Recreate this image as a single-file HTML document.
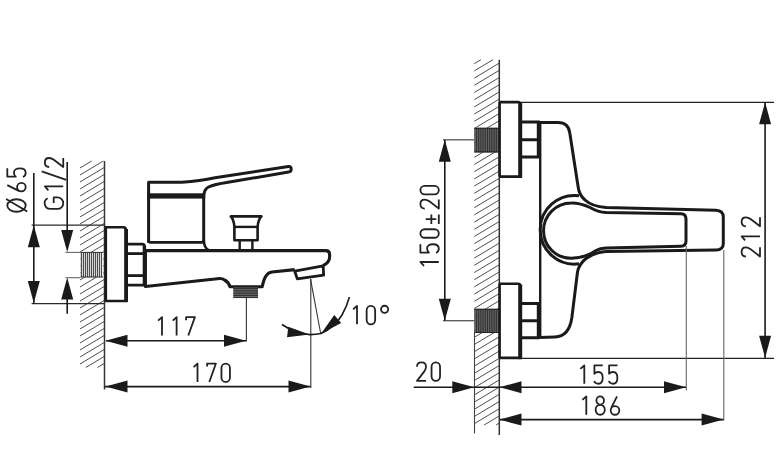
<!DOCTYPE html>
<html><head><meta charset="utf-8"><style>
html,body{margin:0;padding:0;background:#fff;width:783px;height:473px;overflow:hidden}
svg{display:block}
</style></head><body>
<svg width="783" height="473" viewBox="0 0 783 473">
<rect width="783" height="473" fill="#fff"/>
<g stroke="#444" stroke-width="0.95"><line x1="80.00" y1="168.00" x2="91.67" y2="161.00"/><line x1="80.00" y1="175.00" x2="103.33" y2="161.00"/><line x1="80.00" y1="182.00" x2="104.30" y2="167.42"/><line x1="80.00" y1="189.00" x2="104.30" y2="174.42"/><line x1="80.00" y1="196.00" x2="104.30" y2="181.42"/><line x1="80.00" y1="203.00" x2="104.30" y2="188.42"/><line x1="80.00" y1="210.00" x2="104.30" y2="195.42"/><line x1="80.00" y1="217.00" x2="104.30" y2="202.42"/><line x1="80.00" y1="224.00" x2="104.30" y2="209.42"/><line x1="80.00" y1="231.00" x2="104.30" y2="216.42"/><line x1="80.00" y1="238.00" x2="104.30" y2="223.42"/><line x1="80.00" y1="245.00" x2="104.30" y2="230.42"/><line x1="80.00" y1="252.00" x2="104.30" y2="237.42"/><line x1="80.00" y1="259.00" x2="104.30" y2="244.42"/><line x1="80.00" y1="266.00" x2="104.30" y2="251.42"/><line x1="80.00" y1="273.00" x2="104.30" y2="258.42"/><line x1="80.00" y1="280.00" x2="104.30" y2="265.42"/><line x1="80.00" y1="287.00" x2="104.30" y2="272.42"/><line x1="80.00" y1="294.00" x2="104.30" y2="279.42"/><line x1="80.00" y1="301.00" x2="104.30" y2="286.42"/><line x1="80.00" y1="308.00" x2="104.30" y2="293.42"/><line x1="80.00" y1="315.00" x2="104.30" y2="300.42"/><line x1="80.00" y1="322.00" x2="104.30" y2="307.42"/><line x1="80.00" y1="329.00" x2="104.30" y2="314.42"/><line x1="80.00" y1="336.00" x2="104.30" y2="321.42"/><line x1="80.00" y1="343.00" x2="104.30" y2="328.42"/><line x1="80.00" y1="350.00" x2="104.30" y2="335.42"/><line x1="80.00" y1="357.00" x2="104.30" y2="342.42"/><line x1="80.00" y1="364.00" x2="104.30" y2="349.42"/><line x1="85.83" y1="367.50" x2="104.30" y2="356.42"/><line x1="97.50" y1="367.50" x2="104.30" y2="363.42"/></g>
<rect x="80.40" y="252.00" width="22.80" height="25.20" fill="#e8e8e8"/><g stroke="#3c3c3c" stroke-width="1.00"><line x1="81.40" y1="252.00" x2="81.40" y2="277.20"/><line x1="83.40" y1="252.00" x2="83.40" y2="277.20"/><line x1="85.40" y1="252.00" x2="85.40" y2="277.20"/><line x1="87.40" y1="252.00" x2="87.40" y2="277.20"/><line x1="89.40" y1="252.00" x2="89.40" y2="277.20"/><line x1="91.40" y1="252.00" x2="91.40" y2="277.20"/><line x1="93.40" y1="252.00" x2="93.40" y2="277.20"/><line x1="95.40" y1="252.00" x2="95.40" y2="277.20"/><line x1="97.40" y1="252.00" x2="97.40" y2="277.20"/><line x1="99.40" y1="252.00" x2="99.40" y2="277.20"/><line x1="101.40" y1="252.00" x2="101.40" y2="277.20"/></g>
<path d="M80.4,252.4 H103 M80.4,277 H103" stroke="#333" stroke-width="1"/>
<line x1="104.5" y1="161" x2="104.5" y2="389.5" stroke="#333" stroke-width="1.5"/>
<path d="M105.5,227.3 H123.5 Q126,227.3 126,230 V301 H105.5" fill="none" stroke="#1a1a1a" stroke-width="2.4"/>
<line x1="126.1" y1="229" x2="126.1" y2="302" stroke="#1a1a1a" stroke-width="3.8"/>
<line x1="105.8" y1="226" x2="105.8" y2="302" stroke="#1a1a1a" stroke-width="2.6"/>
<path d="M127.5,244.2 H142 Q144.6,244.2 144.6,247 V285.2 H127.5" fill="none" stroke="#1a1a1a" stroke-width="2.8"/>
<line x1="144.4" y1="246" x2="144.4" y2="285.5" stroke="#1a1a1a" stroke-width="3.4"/>
<line x1="127.5" y1="253.6" x2="144" y2="253.6" stroke="#1a1a1a" stroke-width="2.8"/>
<line x1="127.5" y1="275.6" x2="144" y2="275.6" stroke="#1a1a1a" stroke-width="2.8"/>
<path d="M148.6,242.7 V182.2 H182 Q200,181 215,177.8 L288.5,166.6 Q291.2,166.4 291.2,169.3 Q291.2,171.8 288.5,172.1 L228,182.3 Q214,184.5 208.5,187 Q203.7,189.5 203.7,197 V243" fill="none" stroke="#1a1a1a" stroke-width="3" stroke-linejoin="round"/>
<rect x="147.2" y="193.3" width="58" height="5.3" fill="#1a1a1a"/>
<path d="M148.6,240 Q148.6,242.4 150.5,242.4 H201.5 Q203.7,242.4 203.7,240" fill="none" stroke="#1a1a1a" stroke-width="2.6"/>
<path d="M203.7,240 Q204,248 209,250.5" fill="none" stroke="#1a1a1a" stroke-width="2.6"/>
<path d="M145.4,250.6 H325.5 Q329.6,250.6 329.6,254.5 V257 Q329.6,262.5 323,265.6 M145.4,250.5 V286.5 L215,279 Q222,277.5 224.5,280 Q228.5,282 230,286.8 H262.2 Q263.8,279 266,276 Q268,272.5 272,272 L294.7,269.6" fill="none" stroke="#1a1a1a" stroke-width="3.1" stroke-linejoin="round"/>
<polygon points="294.7,271.2 323.2,265.9 323.6,275.2 297.3,278.8" fill="#fff" stroke="#1a1a1a" stroke-width="2.8" stroke-linejoin="round"/>
<path d="M230.8,216.4 H261.4 Q258,220 257.6,227 V240.2 H234.4 V227 Q234,220 230.8,216.4 Z" fill="none" stroke="#1a1a1a" stroke-width="2.6" stroke-linejoin="round"/>
<line x1="234" y1="226.9" x2="258" y2="226.9" stroke="#1a1a1a" stroke-width="2.4"/>
<line x1="239.7" y1="240" x2="239.7" y2="250" stroke="#1a1a1a" stroke-width="2.4"/>
<line x1="252.4" y1="240" x2="252.4" y2="250" stroke="#1a1a1a" stroke-width="2.4"/>
<rect x="233.30" y="287.50" width="24.70" height="10.60" fill="#777"/><g stroke="#2a2a2a" stroke-width="1.00"><line x1="233.30" y1="288.40" x2="258.00" y2="288.40"/><line x1="233.30" y1="290.20" x2="258.00" y2="290.20"/><line x1="233.30" y1="292.00" x2="258.00" y2="292.00"/><line x1="233.30" y1="293.80" x2="258.00" y2="293.80"/><line x1="233.30" y1="295.60" x2="258.00" y2="295.60"/><line x1="233.30" y1="297.40" x2="258.00" y2="297.40"/></g>
<g stroke="#2a2a2a" stroke-width="1.25"><line x1="31.6" y1="225" x2="104.5" y2="225"/><line x1="31.6" y1="303.5" x2="104.5" y2="303.5"/></g>
<g stroke="#666" stroke-width="1.1"><line x1="65.4" y1="252.4" x2="80.2" y2="252.4"/><line x1="65.4" y1="277.7" x2="80.2" y2="277.7"/></g>
<g stroke="#333" stroke-width="1.1"><line x1="246.4" y1="298" x2="246.4" y2="341.5"/><line x1="310.8" y1="279" x2="310.8" y2="388"/><line x1="310.5" y1="279" x2="320.8" y2="334"/></g>
<g stroke="#1a1a1a" stroke-width="1.6"><line x1="33.8" y1="173" x2="33.8" y2="303.3"/><line x1="67.2" y1="162" x2="67.2" y2="240"/><line x1="67.2" y1="290" x2="67.2" y2="313.8"/><line x1="106" y1="340.8" x2="246" y2="340.8"/><line x1="105" y1="386.6" x2="310.5" y2="386.6"/></g>
<polygon points="33.80,225.20 39.80,247.20 27.80,247.20" fill="#1a1a1a"/>
<polygon points="33.80,303.00 27.80,281.00 39.80,281.00" fill="#1a1a1a"/>
<polygon points="67.20,252.00 61.20,230.00 73.20,230.00" fill="#1a1a1a"/>
<polygon points="67.20,277.60 73.20,299.60 61.20,299.60" fill="#1a1a1a"/>
<polygon points="105.50,340.80 127.50,334.80 127.50,346.80" fill="#1a1a1a"/>
<polygon points="246.00,340.80 224.00,346.80 224.00,334.80" fill="#1a1a1a"/>
<polygon points="105.50,386.60 127.50,380.60 127.50,392.60" fill="#1a1a1a"/>
<polygon points="310.50,386.60 288.50,392.60 288.50,380.60" fill="#1a1a1a"/>
<path d="M282,324.5 Q295,333.5 310,334.6 Q316,334.5 321,333.5 Q335,327 342,315 Q347,306 349.4,297" fill="none" stroke="#1a1a1a" stroke-width="1.6"/>
<polygon points="309.50,334.60 287.03,337.19 288.28,326.77" fill="#1a1a1a"/>
<polygon points="321.20,333.50 334.25,315.02 341.18,322.91" fill="#1a1a1a"/>
<g stroke="#444" stroke-width="0.95"><line x1="474.30" y1="63.70" x2="480.97" y2="59.70"/><line x1="474.30" y1="70.90" x2="492.97" y2="59.70"/><line x1="474.30" y1="78.10" x2="499.30" y2="63.10"/><line x1="474.30" y1="85.30" x2="499.30" y2="70.30"/><line x1="474.30" y1="92.50" x2="499.30" y2="77.50"/><line x1="474.30" y1="99.70" x2="499.30" y2="84.70"/><line x1="474.30" y1="106.90" x2="499.30" y2="91.90"/><line x1="474.30" y1="114.10" x2="499.30" y2="99.10"/><line x1="474.30" y1="121.30" x2="499.30" y2="106.30"/><line x1="474.30" y1="128.50" x2="499.30" y2="113.50"/><line x1="474.30" y1="135.70" x2="499.30" y2="120.70"/><line x1="474.30" y1="142.90" x2="499.30" y2="127.90"/><line x1="474.30" y1="150.10" x2="499.30" y2="135.10"/><line x1="474.30" y1="157.30" x2="499.30" y2="142.30"/><line x1="474.30" y1="164.50" x2="499.30" y2="149.50"/><line x1="474.30" y1="171.70" x2="499.30" y2="156.70"/><line x1="474.30" y1="178.90" x2="499.30" y2="163.90"/><line x1="474.30" y1="186.10" x2="499.30" y2="171.10"/><line x1="474.30" y1="193.30" x2="499.30" y2="178.30"/><line x1="474.30" y1="200.50" x2="499.30" y2="185.50"/><line x1="474.30" y1="207.70" x2="499.30" y2="192.70"/><line x1="474.30" y1="214.90" x2="499.30" y2="199.90"/><line x1="474.30" y1="222.10" x2="499.30" y2="207.10"/><line x1="474.30" y1="229.30" x2="499.30" y2="214.30"/><line x1="474.30" y1="236.50" x2="499.30" y2="221.50"/><line x1="474.30" y1="243.70" x2="499.30" y2="228.70"/><line x1="474.30" y1="250.90" x2="499.30" y2="235.90"/><line x1="474.30" y1="258.10" x2="499.30" y2="243.10"/><line x1="474.30" y1="265.30" x2="499.30" y2="250.30"/><line x1="474.30" y1="272.50" x2="499.30" y2="257.50"/><line x1="474.30" y1="279.70" x2="499.30" y2="264.70"/><line x1="474.30" y1="286.90" x2="499.30" y2="271.90"/><line x1="474.30" y1="294.10" x2="499.30" y2="279.10"/><line x1="474.30" y1="301.30" x2="499.30" y2="286.30"/><line x1="474.30" y1="308.50" x2="499.30" y2="293.50"/><line x1="474.30" y1="315.70" x2="499.30" y2="300.70"/><line x1="474.30" y1="322.90" x2="499.30" y2="307.90"/><line x1="474.30" y1="330.10" x2="499.30" y2="315.10"/><line x1="474.30" y1="337.30" x2="499.30" y2="322.30"/><line x1="474.30" y1="344.50" x2="499.30" y2="329.50"/><line x1="474.30" y1="351.70" x2="499.30" y2="336.70"/><line x1="474.30" y1="358.90" x2="499.30" y2="343.90"/><line x1="474.30" y1="366.10" x2="499.30" y2="351.10"/><line x1="474.30" y1="373.30" x2="499.30" y2="358.30"/><line x1="474.30" y1="380.50" x2="499.30" y2="365.50"/><line x1="474.30" y1="387.70" x2="499.30" y2="372.70"/><line x1="474.30" y1="394.90" x2="499.30" y2="379.90"/><line x1="474.30" y1="402.10" x2="499.30" y2="387.10"/><line x1="474.30" y1="409.30" x2="499.30" y2="394.30"/><line x1="474.30" y1="416.50" x2="499.30" y2="401.50"/><line x1="474.30" y1="423.70" x2="499.30" y2="408.70"/><line x1="484.13" y1="425.00" x2="499.30" y2="415.90"/><line x1="496.13" y1="425.00" x2="499.30" y2="423.10"/></g>
<line x1="499.3" y1="59.7" x2="499.3" y2="435" stroke="#333" stroke-width="1.5"/>
<line x1="474.5" y1="333" x2="474.5" y2="433.5" stroke="#444" stroke-width="1.1"/>
<rect x="474.30" y="127.80" width="24.60" height="24.60" fill="#333"/><g stroke="#808080" stroke-width="0.70"><line x1="475.40" y1="127.80" x2="475.40" y2="152.40"/><line x1="477.60" y1="127.80" x2="477.60" y2="152.40"/><line x1="479.80" y1="127.80" x2="479.80" y2="152.40"/><line x1="482.00" y1="127.80" x2="482.00" y2="152.40"/><line x1="484.20" y1="127.80" x2="484.20" y2="152.40"/><line x1="486.40" y1="127.80" x2="486.40" y2="152.40"/><line x1="488.60" y1="127.80" x2="488.60" y2="152.40"/><line x1="490.80" y1="127.80" x2="490.80" y2="152.40"/><line x1="493.00" y1="127.80" x2="493.00" y2="152.40"/><line x1="495.20" y1="127.80" x2="495.20" y2="152.40"/><line x1="497.40" y1="127.80" x2="497.40" y2="152.40"/></g>
<path d="M474.3,128.3 H498.9 M474.3,151.9 H498.9" stroke="#222" stroke-width="1"/>
<rect x="474.30" y="308.80" width="24.60" height="24.20" fill="#333"/><g stroke="#808080" stroke-width="0.70"><line x1="475.40" y1="308.80" x2="475.40" y2="333.00"/><line x1="477.60" y1="308.80" x2="477.60" y2="333.00"/><line x1="479.80" y1="308.80" x2="479.80" y2="333.00"/><line x1="482.00" y1="308.80" x2="482.00" y2="333.00"/><line x1="484.20" y1="308.80" x2="484.20" y2="333.00"/><line x1="486.40" y1="308.80" x2="486.40" y2="333.00"/><line x1="488.60" y1="308.80" x2="488.60" y2="333.00"/><line x1="490.80" y1="308.80" x2="490.80" y2="333.00"/><line x1="493.00" y1="308.80" x2="493.00" y2="333.00"/><line x1="495.20" y1="308.80" x2="495.20" y2="333.00"/><line x1="497.40" y1="308.80" x2="497.40" y2="333.00"/></g>
<path d="M474.3,309.3 H498.9 M474.3,332.5 H498.9" stroke="#222" stroke-width="1"/>
<path d="M499.3,102.1 H518 Q520.5,102.1 520.5,104.6 V176.6 H499.3" fill="none" stroke="#1a1a1a" stroke-width="2.6"/>
<line x1="520.2" y1="103.1" x2="520.2" y2="177.8" stroke="#1a1a1a" stroke-width="4"/>
<line x1="499.6" y1="102.1" x2="499.6" y2="176.6" stroke="#1a1a1a" stroke-width="2.6"/>
<path d="M499.3,283.7 H518 Q520.5,283.7 520.5,286.2 V357.9 H499.3" fill="none" stroke="#1a1a1a" stroke-width="2.6"/>
<line x1="520.2" y1="284.7" x2="520.2" y2="359.1" stroke="#1a1a1a" stroke-width="4"/>
<line x1="499.6" y1="283.7" x2="499.6" y2="357.9" stroke="#1a1a1a" stroke-width="2.6"/>
<path d="M521,122.0 H538.3 V157.0 H521 M521,139.8 H538.3" fill="none" stroke="#1a1a1a" stroke-width="3"/>
<path d="M521,303.4 H538.3 V337.7 H521 M521,320.7 H538.3" fill="none" stroke="#1a1a1a" stroke-width="3"/>
<path d="M540.2,122 V338.5" fill="none" stroke="#1a1a1a" stroke-width="2.4"/>
<path d="M538.3,122.4 H558 Q568.5,122.5 569.8,133 L578,186 Q579,195 585,200 Q592,206.5 606,207.5 L716,210.3 Q723.3,210.8 723.3,217 V243.5 Q723.3,249.8 716,250 L606,251.5 Q594,252.5 586,258.5 Q579,264 577.5,272 L571.8,318 Q569,336.5 555,337 L540.2,337.5" fill="none" stroke="#1a1a1a" stroke-width="3" stroke-linejoin="round"/>
<path d="M579,195.8 A34.3,34.3 0 1 0 579,263.8" fill="none" stroke="#1a1a1a" stroke-width="3"/>
<path d="M571.2,203 A27.6,27.6 0 1 0 571.2,258.3 Q585,258 596,250.5 Q600,248.2 606,248 L681,246.2 Q686,246 686,241 V219 Q686,214 681,213.8 L606,212.6 Q598,212 590,207.5 Q580,202.8 571.2,203" fill="none" stroke="#1a1a1a" stroke-width="3"/>
<g stroke="#555" stroke-width="1.3"><line x1="443" y1="139.8" x2="474.4" y2="139.8"/><line x1="443" y1="320.7" x2="474.4" y2="320.7"/></g>
<g stroke="#222" stroke-width="1.2"><line x1="521" y1="102.4" x2="774" y2="102.4"/><line x1="521" y1="358.3" x2="774" y2="358.3"/></g>
<g stroke="#666" stroke-width="1.1"><line x1="686.3" y1="246" x2="686.3" y2="390.6"/><line x1="723.8" y1="250" x2="723.8" y2="420.5"/></g>
<g stroke="#1a1a1a" stroke-width="1.6"><line x1="444.8" y1="140" x2="444.8" y2="320.5"/><line x1="765.1" y1="102.5" x2="765.1" y2="358"/><line x1="413.7" y1="387.2" x2="686" y2="387.2"/><line x1="500" y1="419.6" x2="723.5" y2="419.6"/></g>
<polygon points="444.80,139.80 450.80,161.80 438.80,161.80" fill="#1a1a1a"/>
<polygon points="444.80,320.70 438.80,298.70 450.80,298.70" fill="#1a1a1a"/>
<polygon points="765.10,102.30 771.10,124.30 759.10,124.30" fill="#1a1a1a"/>
<polygon points="765.10,357.80 759.10,335.80 771.10,335.80" fill="#1a1a1a"/>
<polygon points="474.30,387.20 452.30,393.20 452.30,381.20" fill="#1a1a1a"/>
<polygon points="499.50,387.20 521.50,381.20 521.50,393.20" fill="#1a1a1a"/>
<polygon points="686.00,387.20 664.00,393.20 664.00,381.20" fill="#1a1a1a"/>
<polygon points="499.50,419.60 521.50,413.60 521.50,425.60" fill="#1a1a1a"/>
<polygon points="723.60,419.60 701.60,425.60 701.60,413.60" fill="#1a1a1a"/>
<g fill="none" stroke="#222" stroke-width="1.80" stroke-linejoin="round"><path transform="translate(161.50,316.15)" d="M-3.4,4.5 L0.5,0.95 V19.35"/><path transform="translate(176.10,316.15)" d="M-3.4,4.5 L0.5,0.95 V19.35"/><path transform="translate(190.50,316.15)" d="M-4.4,4.0 V0.95 H4.4 L-2.2,19.35"/></g>
<g fill="none" stroke="#222" stroke-width="1.80" stroke-linejoin="round"><path transform="translate(197.00,362.60)" d="M-3.4,4.5 L0.5,0.95 V19.35"/><path transform="translate(211.50,362.60)" d="M-4.4,4.0 V0.95 H4.4 L-2.2,19.35"/><path transform="translate(225.70,362.60)" d="M-4.25,5.2 A4.25,4.25 0 0 1 4.25,5.2 V15.1 A4.25,4.25 0 0 1 -4.25,15.1 Z"/></g>
<g fill="none" stroke="#222" stroke-width="1.80" stroke-linejoin="round"><path transform="translate(356.50,304.95)" d="M-3.4,4.5 L0.5,0.95 V19.35"/><path transform="translate(370.90,304.95)" d="M-4.25,5.2 A4.25,4.25 0 0 1 4.25,5.2 V15.1 A4.25,4.25 0 0 1 -4.25,15.1 Z"/></g>
<circle cx="384.6" cy="309.35" r="3.6" fill="none" stroke="#222" stroke-width="1.8"/>
<g fill="none" stroke="#222" stroke-width="1.80" stroke-linejoin="round"><path transform="translate(421.50,361.50)" d="M-4.5,5.3 C-4.5,2.6 -2.5,0.95 0,0.95 C2.6,0.95 4.5,2.7 4.5,5.3 C4.5,7.1 3.9,8.3 2.8,9.9 L-4.5,19.35 H4.6"/><path transform="translate(435.80,361.50)" d="M-4.25,5.2 A4.25,4.25 0 0 1 4.25,5.2 V15.1 A4.25,4.25 0 0 1 -4.25,15.1 Z"/></g>
<g fill="none" stroke="#222" stroke-width="1.80" stroke-linejoin="round"><path transform="translate(583.80,364.40)" d="M-3.4,4.5 L0.5,0.95 V19.35"/><path transform="translate(598.40,364.40)" d="M4.4,0.95 H-4.0 V9.4 C-3,8.1 -1.5,7.6 0.2,7.6 C2.9,7.6 4.3,10 4.3,13.4 C4.3,17.2 2.6,19.35 0,19.35 C-2.1,19.35 -3.6,18.3 -4.3,16.6"/><path transform="translate(613.10,364.40)" d="M4.4,0.95 H-4.0 V9.4 C-3,8.1 -1.5,7.6 0.2,7.6 C2.9,7.6 4.3,10 4.3,13.4 C4.3,17.2 2.6,19.35 0,19.35 C-2.1,19.35 -3.6,18.3 -4.3,16.6"/></g>
<g fill="none" stroke="#222" stroke-width="1.80" stroke-linejoin="round"><path transform="translate(585.80,395.40)" d="M-3.4,4.5 L0.5,0.95 V19.35"/><path transform="translate(600.20,395.40)" d="M-3.8,5.05 A3.8,4.1 0 1 1 3.8,5.05 A3.8,4.1 0 1 1 -3.8,5.05 Z M-4.6,14.35 A4.6,5.0 0 1 1 4.6,14.35 A4.6,5.0 0 1 1 -4.6,14.35 Z"/><path transform="translate(615.00,395.40)" d="M2.0,0.95 L-3.75,12.4 M-4.3,15.05 A4.3,4.3 0 1 1 4.3,15.05 A4.3,4.3 0 1 1 -4.3,15.05 Z"/></g>
<g fill="none" stroke="#222" stroke-width="1.80" stroke-linejoin="round"><path transform="translate(740.65,251.95) rotate(-90)" d="M-4.5,5.3 C-4.5,2.6 -2.5,0.95 0,0.95 C2.6,0.95 4.5,2.7 4.5,5.3 C4.5,7.1 3.9,8.3 2.8,9.9 L-4.5,19.35 H4.6"/><path transform="translate(740.65,236.90) rotate(-90)" d="M-3.4,4.5 L0.5,0.95 V19.35"/><path transform="translate(740.65,221.80) rotate(-90)" d="M-4.5,5.3 C-4.5,2.6 -2.5,0.95 0,0.95 C2.6,0.95 4.5,2.7 4.5,5.3 C4.5,7.1 3.9,8.3 2.8,9.9 L-4.5,19.35 H4.6"/></g>
<g fill="none" stroke="#222" stroke-width="1.80" stroke-linejoin="round"><path transform="translate(419.45,262.50) rotate(-90)" d="M-3.4,4.5 L0.5,0.95 V19.35"/><path transform="translate(419.45,248.55) rotate(-90)" d="M4.4,0.95 H-4.0 V9.4 C-3,8.1 -1.5,7.6 0.2,7.6 C2.9,7.6 4.3,10 4.3,13.4 C4.3,17.2 2.6,19.35 0,19.35 C-2.1,19.35 -3.6,18.3 -4.3,16.6"/><path transform="translate(419.45,233.50) rotate(-90)" d="M-4.25,5.2 A4.25,4.25 0 0 1 4.25,5.2 V15.1 A4.25,4.25 0 0 1 -4.25,15.1 Z"/><path transform="translate(419.45,219.20) rotate(-90)" d="M0,6.3 V16.8 M-4.8,11.9 H4.8 M-4.8,19.35 H4.8"/><path transform="translate(419.45,204.10) rotate(-90)" d="M-4.5,5.3 C-4.5,2.6 -2.5,0.95 0,0.95 C2.6,0.95 4.5,2.7 4.5,5.3 C4.5,7.1 3.9,8.3 2.8,9.9 L-4.5,19.35 H4.6"/><path transform="translate(419.45,190.10) rotate(-90)" d="M-4.25,5.2 A4.25,4.25 0 0 1 4.25,5.2 V15.1 A4.25,4.25 0 0 1 -4.25,15.1 Z"/></g>
<g fill="none" stroke="#222" stroke-width="1.80" stroke-linejoin="round"><path transform="translate(6.35,205.50) rotate(-90)" d="M-6.25,10.15 A6.25,9.2 0 1 1 6.25,10.15 A6.25,9.2 0 1 1 -6.25,10.15 Z M6.4,-0.2 L-6.1,20.9"/><path transform="translate(6.35,187.10) rotate(-90)" d="M2.0,0.95 L-3.75,12.4 M-4.3,15.05 A4.3,4.3 0 1 1 4.3,15.05 A4.3,4.3 0 1 1 -4.3,15.05 Z"/><path transform="translate(6.35,172.70) rotate(-90)" d="M4.4,0.95 H-4.0 V9.4 C-3,8.1 -1.5,7.6 0.2,7.6 C2.9,7.6 4.3,10 4.3,13.4 C4.3,17.2 2.6,19.35 0,19.35 C-2.1,19.35 -3.6,18.3 -4.3,16.6"/></g>
<g fill="none" stroke="#222" stroke-width="1.80" stroke-linejoin="round"><path transform="translate(43.90,203.20) rotate(-90)" d="M5.0,3.7 A5.75,5.75 0 0 0 -5.75,6.7 V13.6 A5.75,5.75 0 0 0 5.75,13.6 V9.8 H0.3"/><path transform="translate(43.90,186.90) rotate(-90)" d="M-3.4,4.5 L0.5,0.95 V19.35"/><path transform="translate(43.90,175.60) rotate(-90)" d="M4.3,-2.2 L-4.3,22.4"/><path transform="translate(43.90,162.50) rotate(-90)" d="M-4.5,5.3 C-4.5,2.6 -2.5,0.95 0,0.95 C2.6,0.95 4.5,2.7 4.5,5.3 C4.5,7.1 3.9,8.3 2.8,9.9 L-4.5,19.35 H4.6"/></g>
</svg>
</body></html>
